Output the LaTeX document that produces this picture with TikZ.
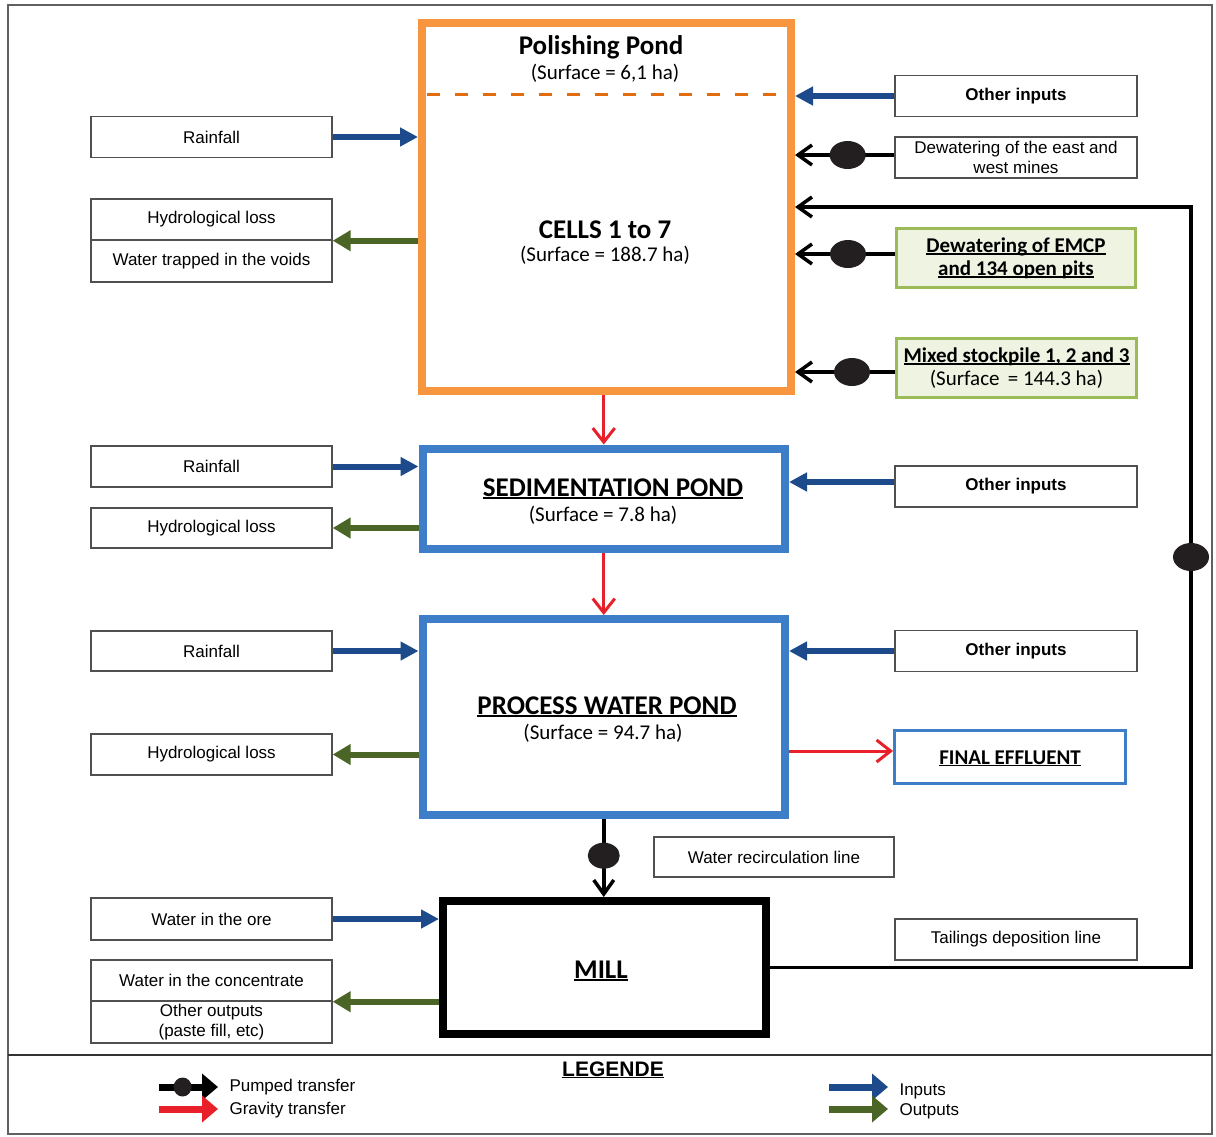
\documentclass[tikz,border=0pt]{standalone}
\usepackage{fontspec}
\setmainfont{Liberation Sans}
\newfontfamily\calfont{Carlito}
\usetikzlibrary{arrows.meta,shapes.geometric}
\definecolor{pondorange}{HTML}{F7963F}
\definecolor{dashorange}{HTML}{E46C0A}
\definecolor{pondblue}{HTML}{3E7DC8}
\definecolor{inblue}{HTML}{1C4A8A}
\definecolor{outgreen}{HTML}{4A6525}
\definecolor{gravred}{HTML}{E8202A}
\definecolor{boxgray}{HTML}{505050}
\definecolor{greenedge}{HTML}{9BBB59}
\definecolor{greenfill}{HTML}{EEF3E2}
\definecolor{dotblack}{HTML}{231F20}
\definecolor{framegray}{HTML}{606060}
\newcommand\myul[1]{\setbox0\hbox{#1}\rlap{\rule[-0.11em]{\wd0}{0.065em}}\box0}
\begin{document}
\begin{tikzpicture}[x=1pt,y=-1pt,
 txt/.style={font=\fontsize{17}{20}\selectfont, align=center},
 box/.style={draw=boxgray, line width=1.4pt, fill=white, inner sep=0pt, minimum width=241pt, minimum height=41pt, txt},
 gbox/.style={draw=greenedge, line width=3pt, fill=greenfill, inner sep=0pt, minimum width=239pt, minimum height=59pt, font=\calfont\bfseries\fontsize{21}{23}\selectfont, align=center},
 pond/.style={line width=8pt, inner sep=0pt},
 ptitle/.style={font=\calfont\bfseries\fontsize{27}{30}\selectfont, anchor=base},
 psub/.style={font=\calfont\fontsize{21}{24}\selectfont, anchor=base},
 inarrow/.style={draw=inblue, line width=6pt, -{Triangle[length=18pt,width=18pt]}},
 outarrow/.style={draw=outgreen, line width=6pt, -{Triangle[length=18pt,width=20pt]}},
 pumpline/.style={draw=black, line width=3.5pt, -{Straight Barb[length=14pt,width=20pt]}},
 gravline/.style={draw=gravred, line width=3pt, -{Straight Barb[length=14pt,width=22pt]}},
 pump/.style={ellipse, fill=dotblack, draw=none, minimum width=36pt, minimum height=28pt, inner sep=0pt},
 legarrow/.style={line width=7pt, -{Triangle[length=16pt,width=26pt]}},
]
\useasboundingbox (0,0) rectangle (1216,1136);
% frame
\draw[framegray, line width=2pt] (8,5) rectangle (1212,1134);
\draw[black!80, line width=2.5pt] (8,1055) -- (1212,1055);

% ponds
\node[pond, draw=pondorange, minimum width=369pt, minimum height=368.5pt] (cells) at (606.5,206.75) {};
\coordinate (dl) at (427,94);
\coordinate (dr) at (787,94);
\draw[dashorange, line width=3pt, dash pattern=on 13pt off 15pt] (dl) -- (dr);
\node[ptitle] (pt1) at (601,54) {Polishing Pond};
\node[psub] (ps1) at (605,79) {(Surface = 6,1 ha)};
\node[ptitle] (pt2) at (605,238) {CELLS 1 to 7};
\node[psub] (ps2) at (605,261) {(Surface = 188.7 ha)};

\node[pond, draw=pondblue, minimum width=362.5pt, minimum height=100.5pt] (sed) at (603.75,498.75) {};
\node[ptitle] (st) at (613,496) {\myul{SEDIMENTATION POND}};
\node[psub] (ss) at (603,521) {(Surface = 7.8 ha)};

\node[pond, draw=pondblue, minimum width=362.5pt, minimum height=196pt] (proc) at (603.75,717) {};
\node[ptitle] (prt) at (607,714) {\myul{PROCESS WATER POND}};
\node[psub] (prs) at (603,739) {(Surface = 94.7 ha)};

\node[pond, draw=black, minimum width=323pt, minimum height=133pt] (mill) at (604.5,967.5) {};
\node[ptitle] (mlt) at (601,978) {\myul{MILL}};

\node[draw=pondblue, line width=3pt, minimum width=231pt, minimum height=53pt, inner sep=0pt] (fe) at (1010,757) {};
\node[font=\calfont\bfseries\fontsize{21}{24}\selectfont, anchor=base] (fet) at (1010,764) {\myul{FINAL EFFLUENT}};

% left boxes
\node[box] (rain1) at (211.5,137) {Rainfall};
\node[box] (hl1) at (211.5,219.5) {Hydrological loss};
\node[box, minimum height=42pt] (wt1) at (211.5,261) {Water trapped in the voids};
\node[box] (rain2) at (211.5,466.5) {Rainfall};
\node[box, minimum height=40pt] (hl2) at (211.5,528) {Hydrological loss};
\node[box, minimum height=40pt] (rain3) at (211.5,651) {Rainfall};
\node[box] (hl3) at (211.5,754.5) {Hydrological loss};
\node[box, minimum height=42pt] (wore) at (211.5,919) {Water in the ore};
\node[box] (wc) at (211.5,980.5) {Water in the concentrate};
\node[box, minimum height=42pt] (oo) at (211.5,1022) {Other outputs\\(paste fill, etc)};

% right boxes
\node[box, minimum width=242pt] (oi1) at (1016,96) {\bfseries Other inputs};
\node[box, minimum width=242pt] (dew) at (1016,157.5) {Dewatering of the east and\\west mines};
\node[gbox] (emcp) at (1016,258) {\myul{Dewatering of EMCP}\\\myul{and 134 open pits}};
\node[gbox, minimum width=240pt] (mix) at (1016.5,368) {\myul{Mixed stockpile 1, 2 and 3}\\{\mdseries (Surface\, = 144.3 ha)}};
\node[box, minimum width=242pt] (oi2) at (1016,486.5) {\bfseries Other inputs};
\node[box, minimum width=242pt] (oi3) at (1016,651) {\bfseries Other inputs};
\node[box, minimum width=240pt, minimum height=40pt] (wrl) at (774,857) {Water recirculation line};
\node[box, minimum width=242pt] (tdl) at (1016,939.5) {Tailings deposition line};

% inputs
\draw[inarrow] (rain1.east) -- (rain1.east -| cells.west);
\draw[inarrow] (oi1.west) -- (oi1.west -| cells.east);
\draw[inarrow] (rain2.east) -- (rain2.east -| sed.west);
\coordinate (i2) at ([yshift=4.5pt]oi2.west);
\draw[inarrow] (i2) -- (i2 -| sed.east);
\draw[inarrow] (rain3.east) -- (rain3.east -| proc.west);
\draw[inarrow] (oi3.west) -- (oi3.west -| proc.east);
\draw[inarrow] (wore.east) -- (wore.east -| mill.west);

% outputs
\coordinate (o1) at (hl1.south east);
\draw[outarrow] (o1 -| cells.west) -- (o1);
\draw[outarrow] (hl2.east -| sed.west) -- (hl2.east);
\draw[outarrow] (hl3.east -| proc.west) -- (hl3.east);
\coordinate (o4) at (wc.south east);
\draw[outarrow] (o4 -| mill.west) -- (o4);

% gravity
\draw[gravline] (sed.north |- cells.south) -- (sed.north);
\draw[gravline] (sed.south) -- (proc.north);
\coordinate (fein) at ([yshift=6pt]fe.west);
\draw[gravline] (fein -| proc.east) -- (fein);

% pumped
\coordinate (d1) at ([yshift=2.5pt]dew.west);
\draw[pumpline] (d1) -- node[pump, pos=0.47] (pd1) {} (d1 -| cells.east);
\coordinate (d2) at ([yshift=4pt]emcp.west);
\draw[pumpline] (d2) -- node[pump, pos=0.47] (pd2) {} (d2 -| cells.east);
\coordinate (d3) at ([yshift=-4pt]mix.west);
\draw[pumpline] (d3) -- node[pump, pos=0.43] (pd3) {} (d3 -| cells.east);
\coordinate (rc) at (1191,207);
\draw[pumpline] (mill.east) -| (rc) -- (rc -| cells.east);
\node[pump] (pd5) at (1191,557) {};
\draw[pumpline] (proc.south) -- node[pump, pos=0.47, minimum width=32pt, minimum height=26pt] (pd6) {} (proc.south |- mill.north);

% legend
\node[font=\bfseries\fontsize{21}{24}\selectfont, anchor=base] (leg) at (613,1076) {\myul{LEGENDE}};
\coordinate (lpa) at (159,1087);
\coordinate (lpb) at (218,1087);
\draw[legarrow, black] (lpa) -- node[pump, minimum width=18pt, minimum height=19pt, pos=0.4] (lpd) {} (lpb);
\node[txt, anchor=west] (lpt) at (226,1087) {Pumped transfer};
\coordinate (lga) at (159,1109);
\coordinate (lgb) at (218,1109);
\draw[legarrow, gravred] (lga) -- (lgb);
\node[txt, anchor=west] (lgt) at (226,1110) {Gravity transfer};
\coordinate (lia) at (829,1087);
\coordinate (lib) at (888,1087);
\draw[legarrow, inblue] (lia) -- (lib);
\node[txt, anchor=west] (lit) at (896,1091) {Inputs};
\coordinate (loa) at (829,1109);
\coordinate (lob) at (888,1109);
\draw[legarrow, outgreen] (loa) -- (lob);
\node[txt, anchor=west] (lot) at (896,1111) {Outputs};
\end{tikzpicture}
\end{document}
